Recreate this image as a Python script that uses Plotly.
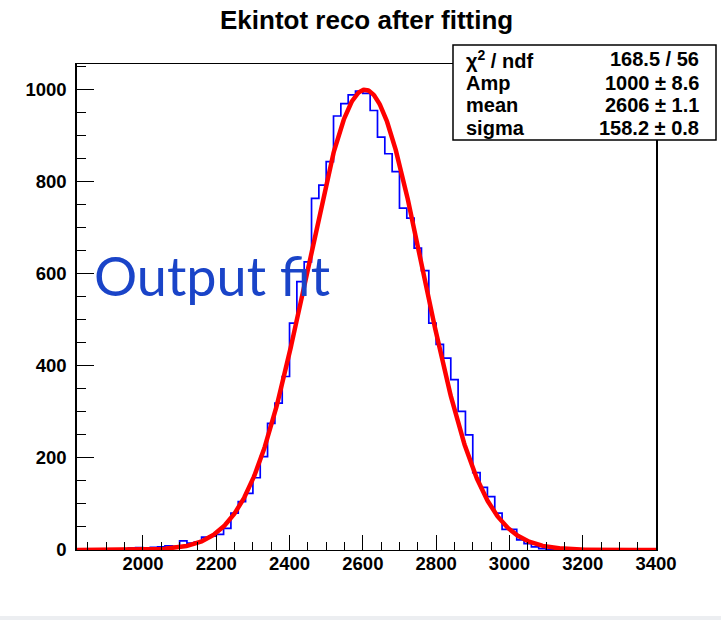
import numpy as np
import plotly.graph_objects as go

# Histogram binning (20-unit bins from 1820 to 3400)
bin_start = 1820
bin_width = 20
counts = [
    0, 0, 0, 0, 1, 0,            # 1820 - 1940
    1, 4, 5, 3, 6, 7, 9, 8,      # 1940 - 2100
    20, 15, 17, 28, 30, 34, 47, 80,
    105, 123, 157, 203, 275, 319, 377, 493,
    583, 626, 764, 793, 844, 943, 970, 989,
    997, 992, 955, 897, 861, 822, 743, 721,
    656, 607, 493, 447, 417, 370, 301, 250,
    168, 136, 116, 80, 45, 45, 22, 14,
    7, 3, 1, 0, 0, 0, 0, 0,
    0, 0, 0, 0, 0, 0, 0,
]

# Gaussian fit result
fit_amp, fit_mean, fit_sigma = 1000.0, 2606.0, 158.2
stat_labels = ["χ<sup>2</sup> / ndf", "Amp", "mean", "sigma"]
stat_values = ["168.5 / 56", "1000 ± 8.6", "2606 ± 1.1", "158.2 ± 0.8"]

x_range = [1820, 3400]
y_range = [0, 1056]

edges = bin_start + bin_width * np.arange(len(counts) + 1)
step_y = list(counts) + [counts[-1]]

xf = np.linspace(x_range[0], x_range[1], 800)
yf = fit_amp * np.exp(-0.5 * ((xf - fit_mean) / fit_sigma) ** 2)

fig = go.Figure()
fig.add_trace(go.Scatter(
    x=edges, y=step_y, mode="lines", line_shape="hv",
    line=dict(color="#0000ff", width=1.7), hoverinfo="skip",
))
fig.add_trace(go.Scatter(
    x=xf, y=yf, mode="lines", line=dict(color="#ff0000", width=4.5),
    cliponaxis=False, hoverinfo="skip",
))

font_bold = "Liberation Sans, Arial, sans-serif"
axis_font = dict(family=font_bold, size=18.5, color="black", weight="bold")

fig.update_xaxes(
    range=x_range, showgrid=False, zeroline=False,
    showline=True, linecolor="black", linewidth=1.3, mirror=True,
    ticks="inside", tick0=0, dtick=200, ticklen=15, tickwidth=1.3, tickcolor="black",
    minor=dict(dtick=50, ticks="inside", ticklen=8, tickwidth=1.2, tickcolor="black"),
    tickfont=axis_font, ticklabelstandoff=-3,
)
fig.update_yaxes(
    range=y_range, showgrid=False, zeroline=False,
    showline=True, linecolor="black", linewidth=1.5, mirror=True,
    ticks="inside", tick0=0, dtick=200, ticklen=17, tickwidth=1.3, tickcolor="black",
    minor=dict(dtick=50, ticks="inside", ticklen=9, tickwidth=1.2, tickcolor="black"),
    tickfont=axis_font, ticklabelstandoff=5,
)

L, R, T, B = 77, 65, 64, 70
W, H = 721, 620
pw, ph = W - L - R, H - T - B


def px(xp):
    return (xp - L) / pw


def py(yp):
    return (H - B - yp) / ph


shapes = [
    # statistics box
    dict(type="rect", xref="paper", yref="paper",
         x0=px(453), x1=px(716), y0=py(140), y1=py(45),
         line=dict(color="black", width=1.5), fillcolor="white", layer="above"),
    # light strip along the page bottom
    dict(type="rect", xref="paper", yref="paper",
         x0=px(0), x1=px(W), y0=py(H), y1=py(616),
         line=dict(width=0), fillcolor="#eceef1", layer="below"),
]

annotations = [
    dict(text="<b>Ekintot reco after fitting</b>", xref="paper", yref="paper",
         x=px(366), y=py(20), xanchor="center", yanchor="middle", showarrow=False,
         font=dict(family=font_bold, size=26, color="black")),
    dict(text="Output fit", xref="paper", yref="paper",
         x=px(92), y=py(275), xanchor="left", yanchor="middle", showarrow=False,
         font=dict(family="Lato, sans-serif", size=54, color="#1a44c8")),
]

row_y = [59, 83, 105, 128]
for lab, val, yy in zip(stat_labels, stat_values, row_y):
    annotations.append(dict(
        text=f"<b>{lab}</b>", xref="paper", yref="paper", x=px(464), y=py(yy),
        xanchor="left", yanchor="middle", showarrow=False,
        font=dict(family=font_bold, size=20, color="black")))
    annotations.append(dict(
        text=f"<b>{val}</b>", xref="paper", yref="paper", x=px(701), y=py(yy),
        xanchor="right", yanchor="middle", showarrow=False,
        font=dict(family=font_bold, size=20, color="black")))

fig.update_layout(
    width=W, height=H,
    margin=dict(l=L, r=R, t=T, b=B, pad=0),
    paper_bgcolor="white", plot_bgcolor="white",
    showlegend=False, shapes=shapes, annotations=annotations,
)

fig.write_html("out.html")
